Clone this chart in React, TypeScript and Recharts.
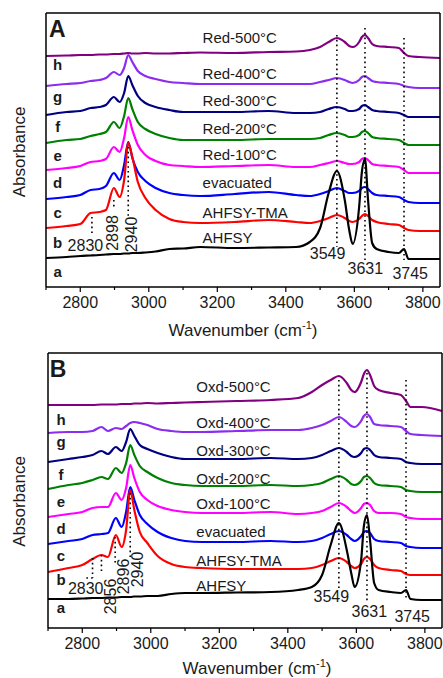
import { LineChart, Line, XAxis, YAxis, ReferenceLine, ReferenceDot } from 'recharts';

// wavenumber grid (cm-1) shared by every spectrum
const WAVENUMBER = [2700, 2760, 2800, 2830, 2856, 2875, 2898, 2915, 2928, 2940, 2952, 2968, 2990, 3020, 3060, 3100, 3150, 3250, 3350, 3430, 3470, 3500, 3525, 3549, 3572, 3585, 3595, 3614, 3622, 3631, 3640, 3652, 3665, 3700, 3730, 3745, 3758, 3790, 3850];
const TICKS = [2700, 2800, 2900, 3000, 3100, 3200, 3300, 3400, 3500, 3600, 3700, 3800];

const LETTERS = ['a', 'b', 'c', 'd', 'e', 'f', 'g', 'h'];
const NAMES_A = ['AHFSY', 'AHFSY-TMA', 'evacuated', 'Red-100°C', 'Red-200°C', 'Red-300°C', 'Red-400°C', 'Red-500°C'];
const NAMES_B = ['AHFSY', 'AHFSY-TMA', 'evacuated', 'Oxd-100°C', 'Oxd-200°C', 'Oxd-300°C', 'Oxd-400°C', 'Oxd-500°C'];

// panel A, stacked absorbance (a.u., offsets included)
const A_AHFSY = [29, 30, 31, 31.5, 32, 32.5, 33, 33, 33.5, 33.5, 34, 34, 34.5, 35.5, 38, 38.5, 40, 39, 39.5, 40, 45, 59, 94, 116, 87, 57, 43, 80, 115, 128, 87, 44, 38, 35, 34, 38, 28, 28, 28];
const A_TMA = [59, 61, 63, 74, 75, 77, 99, 90, 107, 144, 130, 105, 89, 77, 68, 65, 64, 65, 67, 65, 64, 66, 69, 72, 69, 66, 65, 68, 71, 73, 71, 67, 65, 63, 62, 59, 57, 56, 56];
const A_EVAC = [88, 90, 92, 97, 98, 101, 114, 107, 122, 145, 129, 115, 106, 99, 94, 92, 91, 93, 95, 92, 91, 93, 96, 99, 96, 94, 94, 96, 99, 100, 98, 94, 92, 91, 90, 87, 85, 84, 84];
const A_100 = [117, 119, 121, 125, 126, 128, 140, 135, 149, 170, 157, 142, 132, 126, 122, 121, 120, 121, 122, 120, 120, 122, 124, 126, 124, 123, 123, 125, 128, 129, 127, 123, 122, 121, 120, 117, 114, 114, 114];
const A_200 = [144, 147, 148, 151, 153, 155, 165, 159, 171, 189, 178, 165, 158, 153, 149, 147, 147, 147, 148, 148, 148, 149, 152, 154, 152, 150, 150, 152, 155, 156, 154, 150, 149, 148, 147, 144, 142, 142, 142];
const A_300 = [172, 175, 176, 179, 180, 182, 190, 185, 194, 211, 202, 191, 184, 180, 177, 175, 175, 175, 176, 174, 174, 175, 178, 180, 178, 176, 176, 178, 181, 182, 180, 177, 176, 175, 174, 172, 170, 170, 170];
const A_400 = [201, 203, 204, 206, 207, 209, 215, 212, 219, 232, 225, 216, 211, 208, 205, 204, 203, 203, 203, 203, 203, 205, 207, 209, 207, 205, 204, 207, 210, 211, 209, 206, 205, 204, 203, 201, 200, 199, 199];
const A_500 = [231, 231.5, 232, 232, 232.5, 232.5, 233, 233, 233.5, 234, 233.5, 233.5, 234, 233.5, 233.5, 234, 234.5, 234, 235, 235.5, 237, 240, 245, 249, 245, 241, 240, 245, 250, 252, 249, 243, 241, 240, 239, 234, 231, 230, 229];

// panel B
const B_AHFSY = [29, 29, 29.5, 30, 30, 30.5, 30.5, 31, 31, 31, 31.5, 31.5, 32, 32, 34, 35, 35, 35.5, 36, 38, 41, 53, 83, 105, 78, 55, 41, 68, 102, 113, 88, 45, 38, 36, 35, 38, 29, 28, 28];
const B_TMA = [56, 60, 63, 69, 73, 71, 93, 81, 98, 138, 118, 96, 85, 72, 64, 61, 60, 59, 59, 59, 60, 63, 67, 70, 66, 62, 60, 64, 69, 71, 69, 63, 60, 58, 57, 54, 53, 53, 53];
const B_EVAC = [84, 87, 89, 93, 94, 95, 110, 101, 116, 141, 128, 113, 104, 96, 90, 87, 86, 86, 87, 86, 87, 90, 94, 97, 93, 89, 87, 92, 96, 97, 95, 89, 87, 86, 85, 82, 81, 80, 80];
const B_100 = [111, 114, 116, 120, 121, 121, 135, 128, 140, 163, 150, 136, 128, 122, 118, 116, 115, 115, 116, 114, 115, 117, 121, 125, 121, 117, 115, 120, 124, 125, 123, 117, 115, 115, 114, 111, 110, 109, 109];
const B_200 = [139, 143, 145, 148, 151, 149, 160, 155, 165, 183, 173, 162, 156, 150, 145, 143, 142, 142, 143, 142, 143, 145, 149, 152, 148, 144, 143, 147, 151, 152, 150, 145, 143, 142, 141, 138, 137, 136, 136];
const B_300 = [166, 169, 171, 173, 177, 174, 181, 177, 186, 199, 192, 183, 179, 175, 171, 169, 169, 169, 170, 169, 170, 173, 177, 180, 176, 172, 171, 175, 179, 180, 178, 173, 171, 170, 169, 166, 165, 164, 164];
const B_400 = [195, 196, 196, 197, 201, 197, 200, 199, 202, 205, 206, 205, 203, 199, 197, 196, 196, 197, 198, 198, 200, 203, 207, 211, 206, 202, 201, 207, 212, 214, 211, 204, 203, 202, 201, 197, 194, 193, 192];
const B_500 = [223, 223, 223, 223, 223.5, 223.5, 223.5, 224, 224, 224, 224.5, 224.5, 225, 224.5, 225, 225.5, 226, 227, 228, 230, 236, 243, 248, 252, 245, 238, 236, 246, 254, 258, 253, 242, 238, 235, 233, 227, 221, 221, 217];

const PEAKS_A = ['2830', '2898', '2940', '3549', '3631', '3745'];
const PEAKS_B = ['2830', '2856', '2896', '2940', '3549', '3631', '3745'];

const COLORS = ['#000000', '#ff0000', '#0000ff', '#ff00ff', '#008000', '#000080', '#8b2cf0', '#800080'];
const FONT = 'Arial, "Liberation Sans", Helvetica, sans-serif';
const INK = '#1a1a1a';
const AXIS = { stroke: '#000', strokeWidth: 1.5 };

// where the annotations sit, in data units [wavenumber, absorbance, rotated]
const PANEL_A = {
  tag: 'A',
  spectra: [A_AHFSY, A_TMA, A_EVAC, A_100, A_200, A_300, A_400, A_500],
  names: NAMES_A,
  peaks: PEAKS_A,
  top: 0,
  height: 344,
  plotTop: 13,
  plotBottom: 287,
  left: 46,
  right: 440,
  xShift: 0,
  xTitleDrop: 49,
  yShift: 2,
  tagAt: [2709, 250],
  nameX: 3157,
  nameY: [50, 75, 105, 133, 159, 187, 214, 250],
  letterX: 2734,
  letterY: [10, 39, 69, 99, 126, 155, 185, 217],
  peakAt: [[2815, 42, 0], [2895, 54, 1], [2950, 52.5, 1], [3522, 33.5, 0], [3632, 19, 0], [3763, 14, 0]],
  dots: [[2834, 70, 2834, 54], [2898, 87, 2898, 78], [2940, 140, 2940, 70], [3549, 252, 3549, 40], [3631, 259, 3631, 27], [3745, 249, 3745, 27]],
};

const PANEL_B = {
  tag: 'B',
  spectra: [B_AHFSY, B_TMA, B_EVAC, B_100, B_200, B_300, B_400, B_500],
  names: NAMES_B,
  peaks: PEAKS_B,
  top: 336,
  height: 342,
  plotTop: 17,
  plotBottom: 292,
  left: 48,
  right: 442,
  xShift: 12,
  xTitleDrop: 46,
  yShift: 11,
  tagAt: [2705, 251],
  nameX: 3133,
  nameY: [43, 68, 97, 125, 150, 178, 206, 242],
  letterX: 2738,
  letterY: [15, 43, 67, 94, 121, 148, 181, 203],
  peakAt: [[2810, 39.5, 0], [2883, 31.5, 1], [2921, 51.5, 1], [2962, 58.5, 1], [3527, 31.5, 0], [3638, 17, 0], [3763, 12, 0]],
  dots: [[2830, 70, 2830, 50], [2812, 50, 2830, 50], [2856, 73, 2856, 56], [2896, 91, 2896, 65], [2940, 135, 2940, 68], [3549, 248, 3549, 38], [3631, 255, 3631, 25], [3745, 248, 3745, 28]],
};

function WnTick(props: any) {
  const { x, y, payload } = props;
  const major = payload.value % 200 === 0;
  return (
    <g>
      <line x1={x} y1={y} x2={x} y2={y + (major ? 5 : 3)} stroke="#000" strokeWidth={1.2} />
      {major && (
        <text x={x} y={y + 21} textAnchor="middle" fontSize={16} fontFamily={FONT} fill={INK}>
          {payload.value}
        </text>
      )}
    </g>
  );
}

function XTitle(props: any) {
  const { viewBox, shift, drop } = props;
  const cx = viewBox.x + viewBox.width / 2 + shift;
  return (
    <text x={cx} y={viewBox.y + drop} textAnchor="middle" fontSize={17} fontFamily={FONT} fill={INK}>
      Wavenumber (cm<tspan fontSize={11} dy={-7}>-1</tspan>
      <tspan dy={7}>)</tspan>
    </text>
  );
}

function YTitle(props: any) {
  const { viewBox, shift } = props;
  const x = viewBox.x + 25;
  const cy = viewBox.y + viewBox.height / 2 + shift;
  return (
    <text x={x} y={cy} transform={`rotate(-90, ${x}, ${cy})`} textAnchor="middle" fontSize={17} fontFamily={FONT} fill={INK}>
      Absorbance
    </text>
  );
}

// free text hung on a zero-size ReferenceDot
function Note(props: any) {
  const { viewBox, text, rot, anchor = 'middle', size = 15, bold = false, base = 'central' } = props;
  const x = viewBox.x;
  const y = viewBox.y;
  return (
    <text
      x={x}
      y={y}
      textAnchor={anchor}
      dominantBaseline={base}
      fontSize={size}
      fontWeight={bold ? 700 : 400}
      fontFamily={FONT}
      fill={INK}
      transform={rot ? `rotate(-90, ${x}, ${y})` : undefined}
    >
      {text}
    </text>
  );
}

function Panel({ cfg }: { cfg: typeof PANEL_A }) {
  const rows = WAVENUMBER.map((wn, i) => {
    const row: Record<string, number> = { wn };
    cfg.spectra.forEach((s, k) => {
      row['s' + k] = s[i];
    });
    return row;
  });
  const yMax = cfg.plotBottom - cfg.plotTop;
  const dot = { r: 0, fill: 'none', stroke: 'none', ifOverflow: 'visible' as const };

  return (
    <div style={{ position: 'absolute', left: 0, top: cfg.top }}>
      <LineChart
        width={443}
        height={cfg.height}
        data={rows}
        margin={{ top: cfg.plotTop - 1, right: 443 - cfg.right - 1, bottom: 0, left: 0 }}
      >
        <XAxis
          dataKey="wn"
          type="number"
          domain={[2700, 3850]}
          ticks={TICKS}
          interval={0}
          height={cfg.height - cfg.plotBottom}
          tickSize={0}
          tickMargin={0}
          tickLine={false}
          tick={<WnTick />}
          axisLine={AXIS}
          label={<XTitle shift={cfg.xShift} drop={cfg.xTitleDrop} />}
        />
        <XAxis xAxisId="top" orientation="top" dataKey="wn" type="number" domain={[2700, 3850]} height={1} tick={false} tickLine={false} axisLine={AXIS} />
        <YAxis type="number" domain={[0, yMax]} width={cfg.left} tick={false} tickLine={false} axisLine={AXIS} label={<YTitle shift={cfg.yShift} />} />
        <YAxis yAxisId="right" orientation="right" type="number" domain={[0, yMax]} width={1} tick={false} tickLine={false} axisLine={AXIS} />

        {cfg.spectra.map((_, k) => {
          const idx = cfg.spectra.length - 1 - k;
          return (
            <Line
              key={idx}
              dataKey={'s' + idx}
              type="monotone"
              stroke={COLORS[idx]}
              strokeWidth={2.2}
              dot={false}
              activeDot={false}
              isAnimationActive={false}
            />
          );
        })}

        {cfg.dots.map(([x1, y1, x2, y2], i) => (
          <ReferenceLine
            key={'d' + i}
            segment={[{ x: x1, y: y1 }, { x: x2, y: y2 }]}
            stroke="#000"
            strokeWidth={1.6}
            strokeDasharray="1.6 3.2"
            ifOverflow="visible"
          />
        ))}

        <ReferenceDot {...dot} x={cfg.tagAt[0]} y={cfg.tagAt[1]} label={<Note text={cfg.tag} anchor="start" base="auto" size={23} bold />} />
        {cfg.names.map((name, i) => (
          <ReferenceDot key={'n' + i} {...dot} x={cfg.nameX} y={cfg.nameY[i]} label={<Note text={name} anchor="start" />} />
        ))}
        {LETTERS.map((l, i) => (
          <ReferenceDot key={'l' + i} {...dot} x={cfg.letterX} y={cfg.letterY[i]} label={<Note text={l} base="auto" bold />} />
        ))}
        {cfg.peaks.map((p, i) => (
          <ReferenceDot key={'p' + i} {...dot} x={cfg.peakAt[i][0]} y={cfg.peakAt[i][1]} label={<Note text={p} size={16} rot={cfg.peakAt[i][2] === 1} />} />
        ))}
      </LineChart>
    </div>
  );
}

export default function App() {
  return (
    <div style={{ position: 'absolute', left: 0, top: 0, width: 443, height: 678, background: '#fff' }}>
      <Panel cfg={PANEL_A} />
      <Panel cfg={PANEL_B} />
    </div>
  );
}
